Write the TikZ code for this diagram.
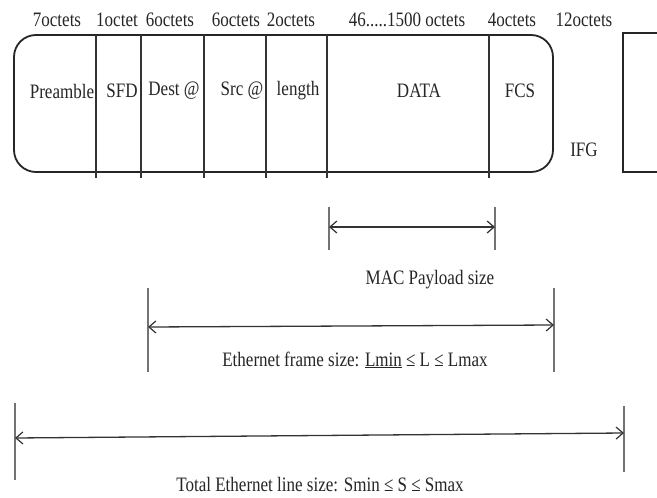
\documentclass[tikz,border=0pt]{standalone}
\usepackage{fontspec}
\setmainfont{Liberation Serif}[FakeStretch=0.83]
\usetikzlibrary{arrows.meta}
\begin{document}
\begin{tikzpicture}[x=1pt,y=-1pt,
  lbl/.style={font=\fontsize{20.5}{23}\selectfont, text=black!85, inner sep=0pt},
  frameline/.style={line width=1.8pt, draw=black!85},
  divider/.style={line width=1.6pt, draw=black!80},
  dimtick/.style={line width=1.3pt, draw=black!55},
  dimline/.style={line width=1.3pt, draw=black!80,
    {Straight Barb[length=7pt,width=12pt,line width=1.2pt]}-{Straight Barb[length=7pt,width=12pt,line width=1.2pt]}}]
\useasboundingbox (0,0) rectangle (657,498);
\fill[white] (0,0) rectangle (657,498);
% frame
\draw[frameline, rounded corners=22pt] (14,35) rectangle (553,172);
\foreach \x in {96,141,204,266,327,489}
  \draw[divider] (\x,35) -- (\x,178);
% next frame
\draw[frameline] (660,33) -- (623,33) -- (623,172) -- (660,172);
% top labels
\node[lbl] (o1) at (57,20) {7octets};
\node[lbl] (o2) at (117,20) {1octet};
\node[lbl] (o3) at (170,20) {6octets};
\node[lbl] (o4) at (236,20) {6octets};
\node[lbl] (o5) at (291,20) {2octets};
\node[lbl] (o6) at (407,20) {46.....1500 octets};
\node[lbl] (o7) at (512,20) {4octets};
\node[lbl] (o8) at (584,20) {12octets};
% cell labels
\node[lbl] (pre) at (62,91) {Preamble};
\node[lbl] (sfd) at (122,91) {SFD};
\node[lbl] (dst) at (174,91) {Dest @};
\node[lbl] (src) at (242,91) {Src @};
\node[lbl] (len) at (298,91) {length};
\node[lbl] (dat) at (419,91) {DATA};
\node[lbl] (fcs) at (520,91) {FCS};
\node[lbl] (ifg) at (584,150) {IFG};
% MAC payload
\coordinate (ma) at (329,227);
\coordinate (mb) at (495,227);
\draw[dimtick] (329,207) -- (329,250);
\draw[dimtick] (495,207) -- (495,250);
\draw[dimline] (ma) -- (mb);
\node[lbl] (mac) at (430,280) {MAC Payload size};
% Ethernet frame
\coordinate (ea) at (148,327);
\coordinate (eb) at (554,325);
\draw[dimtick] (148,288) -- (148,372);
\draw[dimtick] (554,288) -- (554,372);
\draw[dimline] (ea) -- (eb);
\node[lbl] (eth) at (355,360) {Ethernet frame size: \underline{Lmin} ≤ L ≤ Lmax};
% Total line
\coordinate (ta) at (15,438);
\coordinate (tb) at (624,433);
\draw[dimtick] (15,403) -- (15,480);
\draw[dimtick] (624,406) -- (624,472);
\draw[dimline] (ta) -- (tb);
\node[lbl] (tot) at (320,485) {Total Ethernet line size: Smin ≤ S ≤ Smax};
\end{tikzpicture}
\end{document}
